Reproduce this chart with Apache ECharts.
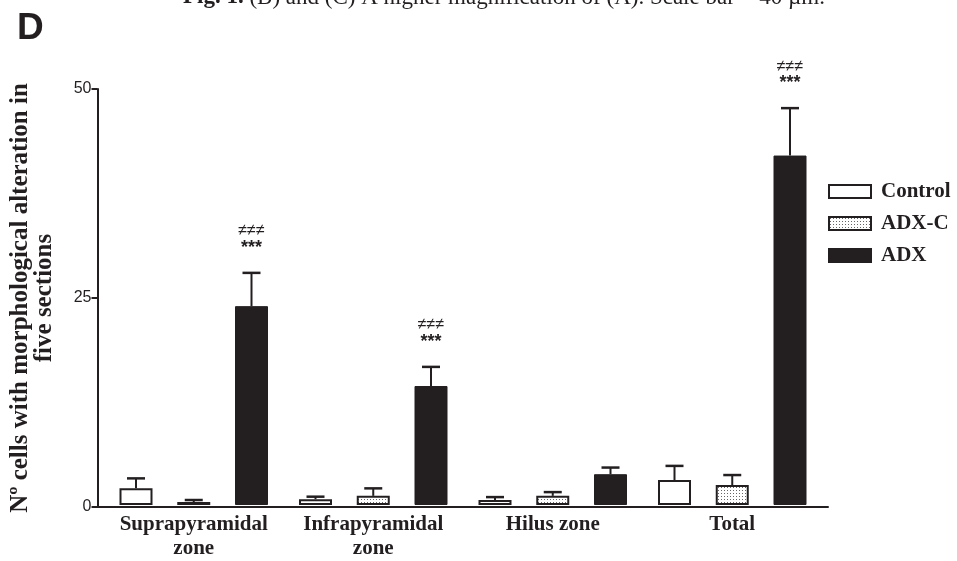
<!DOCTYPE html>
<html>
<head>
<meta charset="utf-8">
<script src="https://cdn.jsdelivr.net/npm/echarts@6/dist/echarts.min.js"></script>
<style type="text/css">
	html,body{margin:0;padding:0;background:#fff;}
	#chart_div{width:957px;height:561px;}
</style>
</head>
<body>
<div id="chart_div"></div>
<script>
	// 数据
	var categories = ['Suprapyramidal\nzone', 'Infrapyramidal\nzone', 'Hilus zone', 'Total'];
	var controlMean = [2.0, 0.7, 0.6, 3.0];
	var controlErr = [1.2, 0.3, 0.35, 1.7];
	var adxcMean = [0.35, 1.1, 1.1, 2.4];
	var adxcErr = [0.25, 0.9, 0.45, 1.2];
	var adxMean = [23.9, 14.3, 3.7, 42.0];
	var adxErr = [4.0, 2.3, 0.8, 5.7];
	var sigHash = ['≠≠≠', '≠≠≠', '', '≠≠≠'];
	var sigStar = ['***', '***', '', '***'];
	var yTicks = [0, 25, 50];

	var serif = '"Liberation Serif", "DejaVu Serif", serif';
	var sans = '"Liberation Sans", Arial, sans-serif';
	var barW = 33;
	var barStep = barW * 1.75;

	// 点状填充 (ADX-C)
	var dotCanvas = document.createElement('canvas');
	dotCanvas.width = 3;
	dotCanvas.height = 3;
	var dctx = dotCanvas.getContext('2d');
	dctx.fillStyle = '#fff';
	dctx.fillRect(0, 0, 3, 3);
	dctx.fillStyle = '#666';
	dctx.fillRect(1, 1, 1, 1);

	function errData(mean, err){
		var out = [];
		for (var i = 0; i < mean.length; i++) {
			out.push([i, mean[i], err[i]]);
		}
		return out;
	}

	function errSeries(mean, err, slot, withSig){
		return {
			type: 'custom',
			xAxisIndex: 1,
			yAxisIndex: 1,
			silent: true,
			z: 1,
			data: errData(mean, err),
			encode: {x: 0, y: 1},
			renderItem: function(params, api){
				var i = api.value(0);
				var base = api.coord([i, api.value(1)]);
				var top = api.coord([i, api.value(1) + api.value(2)]);
				var x = base[0] + (slot - 1) * barStep;
				var children = [
					{type: 'line', shape: {x1: x, y1: base[1], x2: x, y2: top[1]}, style: {stroke: '#231f20', lineWidth: 2}},
					{type: 'line', shape: {x1: x - 9, y1: top[1], x2: x + 9, y2: top[1]}, style: {stroke: '#231f20', lineWidth: 2.5}}
				];
				if (withSig && sigStar[i]) {
					children.push({type: 'text', x: x, y: top[1] - 25, style: {text: sigStar[i], fill: '#231f20', font: 'bold 18px ' + sans, align: 'center', verticalAlign: 'middle'}});
					children.push({type: 'text', x: x, y: top[1] - 42, style: {text: sigHash[i], fill: '#231f20', font: '16px ' + sans, align: 'center', verticalAlign: 'middle'}});
				}
				return {type: 'group', children: children};
			}
		};
	}

	var chart = echarts.init(document.getElementById('chart_div'));
	var option = {
		backgroundColor: '#fff',
		animation: false,
		title: [
			{
				text: '{b|Fig. 1.} (B) and (C) A higher magnification of (A). Scale bar = 40 µm.',
				left: 178, top: -19,
				textStyle: {fontFamily: serif, fontSize: 23, fontWeight: 'normal', color: '#231f20',
					rich: {b: {fontFamily: serif, fontSize: 23, fontWeight: 'bold', color: '#231f20'}}}
			},
			{
				text: 'D',
				left: 12, top: 5,
				textStyle: {fontFamily: '"Liberation Sans Narrow", ' + sans, fontSize: 37, fontWeight: 'bold', color: '#231f20'}
			}
		],
		legend: {
			orient: 'vertical',
			left: 823, top: 176,
			itemWidth: 42, itemHeight: 13, itemGap: 11,
			icon: 'rect',
			data: ['Control', 'ADX-C', 'ADX'],
			textStyle: {fontFamily: serif, fontSize: 21, fontWeight: 'bold', color: '#231f20', padding: [0, 0, 0, 5]}
		},
		grid: [
			{left: 97, right: 129, top: 89, bottom: 54},
			{left: 104, right: 135, top: 89, bottom: 54}
		],
		xAxis: [
			{
				type: 'value', gridIndex: 0, min: 0, max: 1,
				axisLine: {show: true, onZero: false, lineStyle: {color: '#231f20', width: 2}},
				axisTick: {show: false}, axisLabel: {show: false}, splitLine: {show: false}
			},
			{
				type: 'category', gridIndex: 1, data: categories,
				axisLine: {show: false}, axisTick: {show: false},
				axisLabel: {interval: 0, fontFamily: serif, fontSize: 21, fontWeight: 'bold', color: '#231f20', lineHeight: 24, margin: 8}
			}
		],
		yAxis: [
			{
				type: 'value', gridIndex: 0, min: 0, max: 50, interval: 25,
				name: 'Nº cells with morphological alteration in\nfive sections',
				nameLocation: 'middle', nameGap: 41,
				nameTextStyle: {fontFamily: serif, fontSize: 25, fontWeight: 'bold', color: '#231f20', lineHeight: 24},
				axisLine: {show: true, lineStyle: {color: '#231f20', width: 2}},
				axisTick: {show: true, length: 6, lineStyle: {color: '#231f20', width: 2}},
				axisLabel: {fontFamily: sans, fontSize: 16, color: '#231f20', margin: 6,
					formatter: function(v){ return yTicks.indexOf(v) >= 0 ? String(v) : ''; }},
				splitLine: {show: false}
			},
			{
				type: 'value', gridIndex: 1, min: 0, max: 50, show: false, splitLine: {show: false}
			}
		],
		series: [
			{
				name: 'Control', type: 'bar', xAxisIndex: 1, yAxisIndex: 1,
				barWidth: barW, barGap: '75%', z: 2,
				itemStyle: {color: '#fff', borderColor: '#231f20', borderWidth: 2},
				data: controlMean
			},
			{
				name: 'ADX-C', type: 'bar', xAxisIndex: 1, yAxisIndex: 1,
				barWidth: barW, barGap: '75%', z: 2,
				itemStyle: {color: {image: dotCanvas, repeat: 'repeat'}, borderColor: '#231f20', borderWidth: 2},
				data: adxcMean
			},
			{
				name: 'ADX', type: 'bar', xAxisIndex: 1, yAxisIndex: 1,
				barWidth: barW, barGap: '75%', z: 2,
				itemStyle: {color: '#231f20', borderColor: '#231f20', borderWidth: 1},
				data: adxMean
			},
			errSeries(controlMean, controlErr, 0, false),
			errSeries(adxcMean, adxcErr, 1, false),
			errSeries(adxMean, adxErr, 2, true)
		]
	};
	chart.setOption(option);
</script>
</body>
</html>
